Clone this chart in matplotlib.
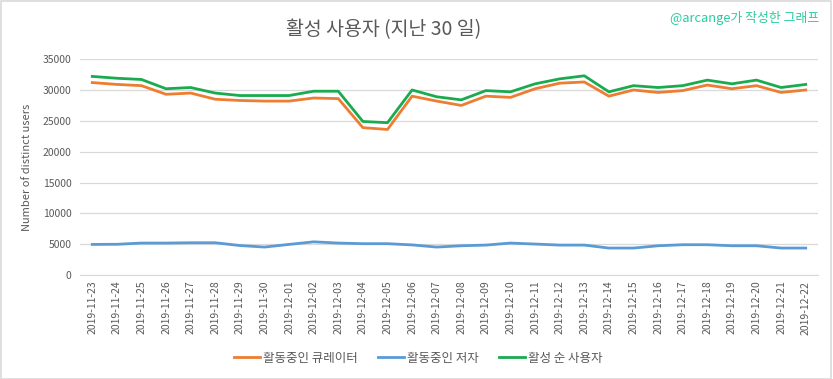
import numpy as np
import matplotlib.pyplot as plt
import pandas as pd

plt.rcParams['font.family'] = ['Noto Sans CJK KR', 'DejaVu Sans']

dates = pd.date_range('2019-11-23', '2019-12-22').strftime('%Y-%m-%d').tolist()

# 활동중인 큐레이터
curators = [31.2, 30.9, 30.7, 29.3, 29.5, 28.5, 28.3, 28.2, 28.2, 28.7,
            28.6, 23.9, 23.6, 29.0, 28.2, 27.5, 29.0, 28.8, 30.2, 31.1,
            31.3, 29.0, 30.0, 29.6, 29.9, 30.8, 30.2, 30.7, 29.6, 30.0]
# 활동중인 저자
authors = [4.98, 5.0, 5.2, 5.2, 5.25, 5.25, 4.8, 4.55, 4.98, 5.4,
           5.2, 5.1, 5.1, 4.9, 4.55, 4.76, 4.87, 5.2, 5.04, 4.87,
           4.87, 4.39, 4.39, 4.76, 4.93, 4.93, 4.76, 4.76, 4.39, 4.39]
# 활성 순 사용자
active = [32.2, 31.9, 31.7, 30.2, 30.4, 29.5, 29.1, 29.1, 29.1, 29.8,
          29.8, 24.9, 24.7, 30.0, 28.9, 28.4, 29.9, 29.7, 31.0, 31.8,
          32.3, 29.7, 30.7, 30.4, 30.7, 31.6, 31.0, 31.6, 30.4, 30.9]

curators = np.array(curators) * 1000
authors = np.array(authors) * 1000
active = np.array(active) * 1000

fig = plt.figure(figsize=(8.33, 3.79), dpi=100)
ax = fig.add_axes([0.096, 0.274, 0.886, 0.570])

x = np.arange(len(dates))
ax.plot(x, curators, color='#ED7D31', lw=2, label='활동중인 큐레이터')
ax.plot(x, authors, color='#5B9BD5', lw=2, label='활동중인 저자')
ax.plot(x, active, color='#1AAB4F', lw=2, label='활성 순 사용자')

ax.set_xlim(-0.5, len(dates) - 0.5)
ax.set_ylim(0, 35000)
ax.set_yticks(range(0, 35001, 5000))
ax.set_xticks(x)
ax.set_xticklabels(dates, rotation=90, fontsize=7.5, color='#595959')
ax.tick_params(axis='y', labelsize=7.5, colors='#595959', length=0, pad=6)
ax.tick_params(axis='x', length=0, pad=4)
ax.grid(axis='y', color='#D9D9D9', lw=0.9)
ax.set_axisbelow(True)
for s in ['top', 'right', 'left']:
    ax.spines[s].set_visible(False)
ax.spines['bottom'].set_color('#D9D9D9')
ax.set_ylabel('Number of distinct users', fontsize=8, color='#595959', labelpad=8)

fig.text(0.46, 0.921, '활성 사용자 (지난 30 일)', ha='center', va='center',
         fontsize=14, color='#595959', fontweight='light')
fig.text(0.984, 0.953, '@arcange가 작성한 그래프', ha='right', va='center',
         fontsize=9.3, color='#2BCC9E')

fig.legend(loc='center', bbox_to_anchor=(0.502, 0.055), ncol=3, frameon=False,
           fontsize=9, handlelength=2.1, handletextpad=0.25, columnspacing=1.6,
           labelcolor='#595959')

fig.patches.append(plt.Rectangle((0.001, 0.001), 0.997, 0.997, transform=fig.transFigure,
                                 fill=False, edgecolor='#D9D9D9', lw=1.2))

fig.savefig('out.png', dpi=100)
